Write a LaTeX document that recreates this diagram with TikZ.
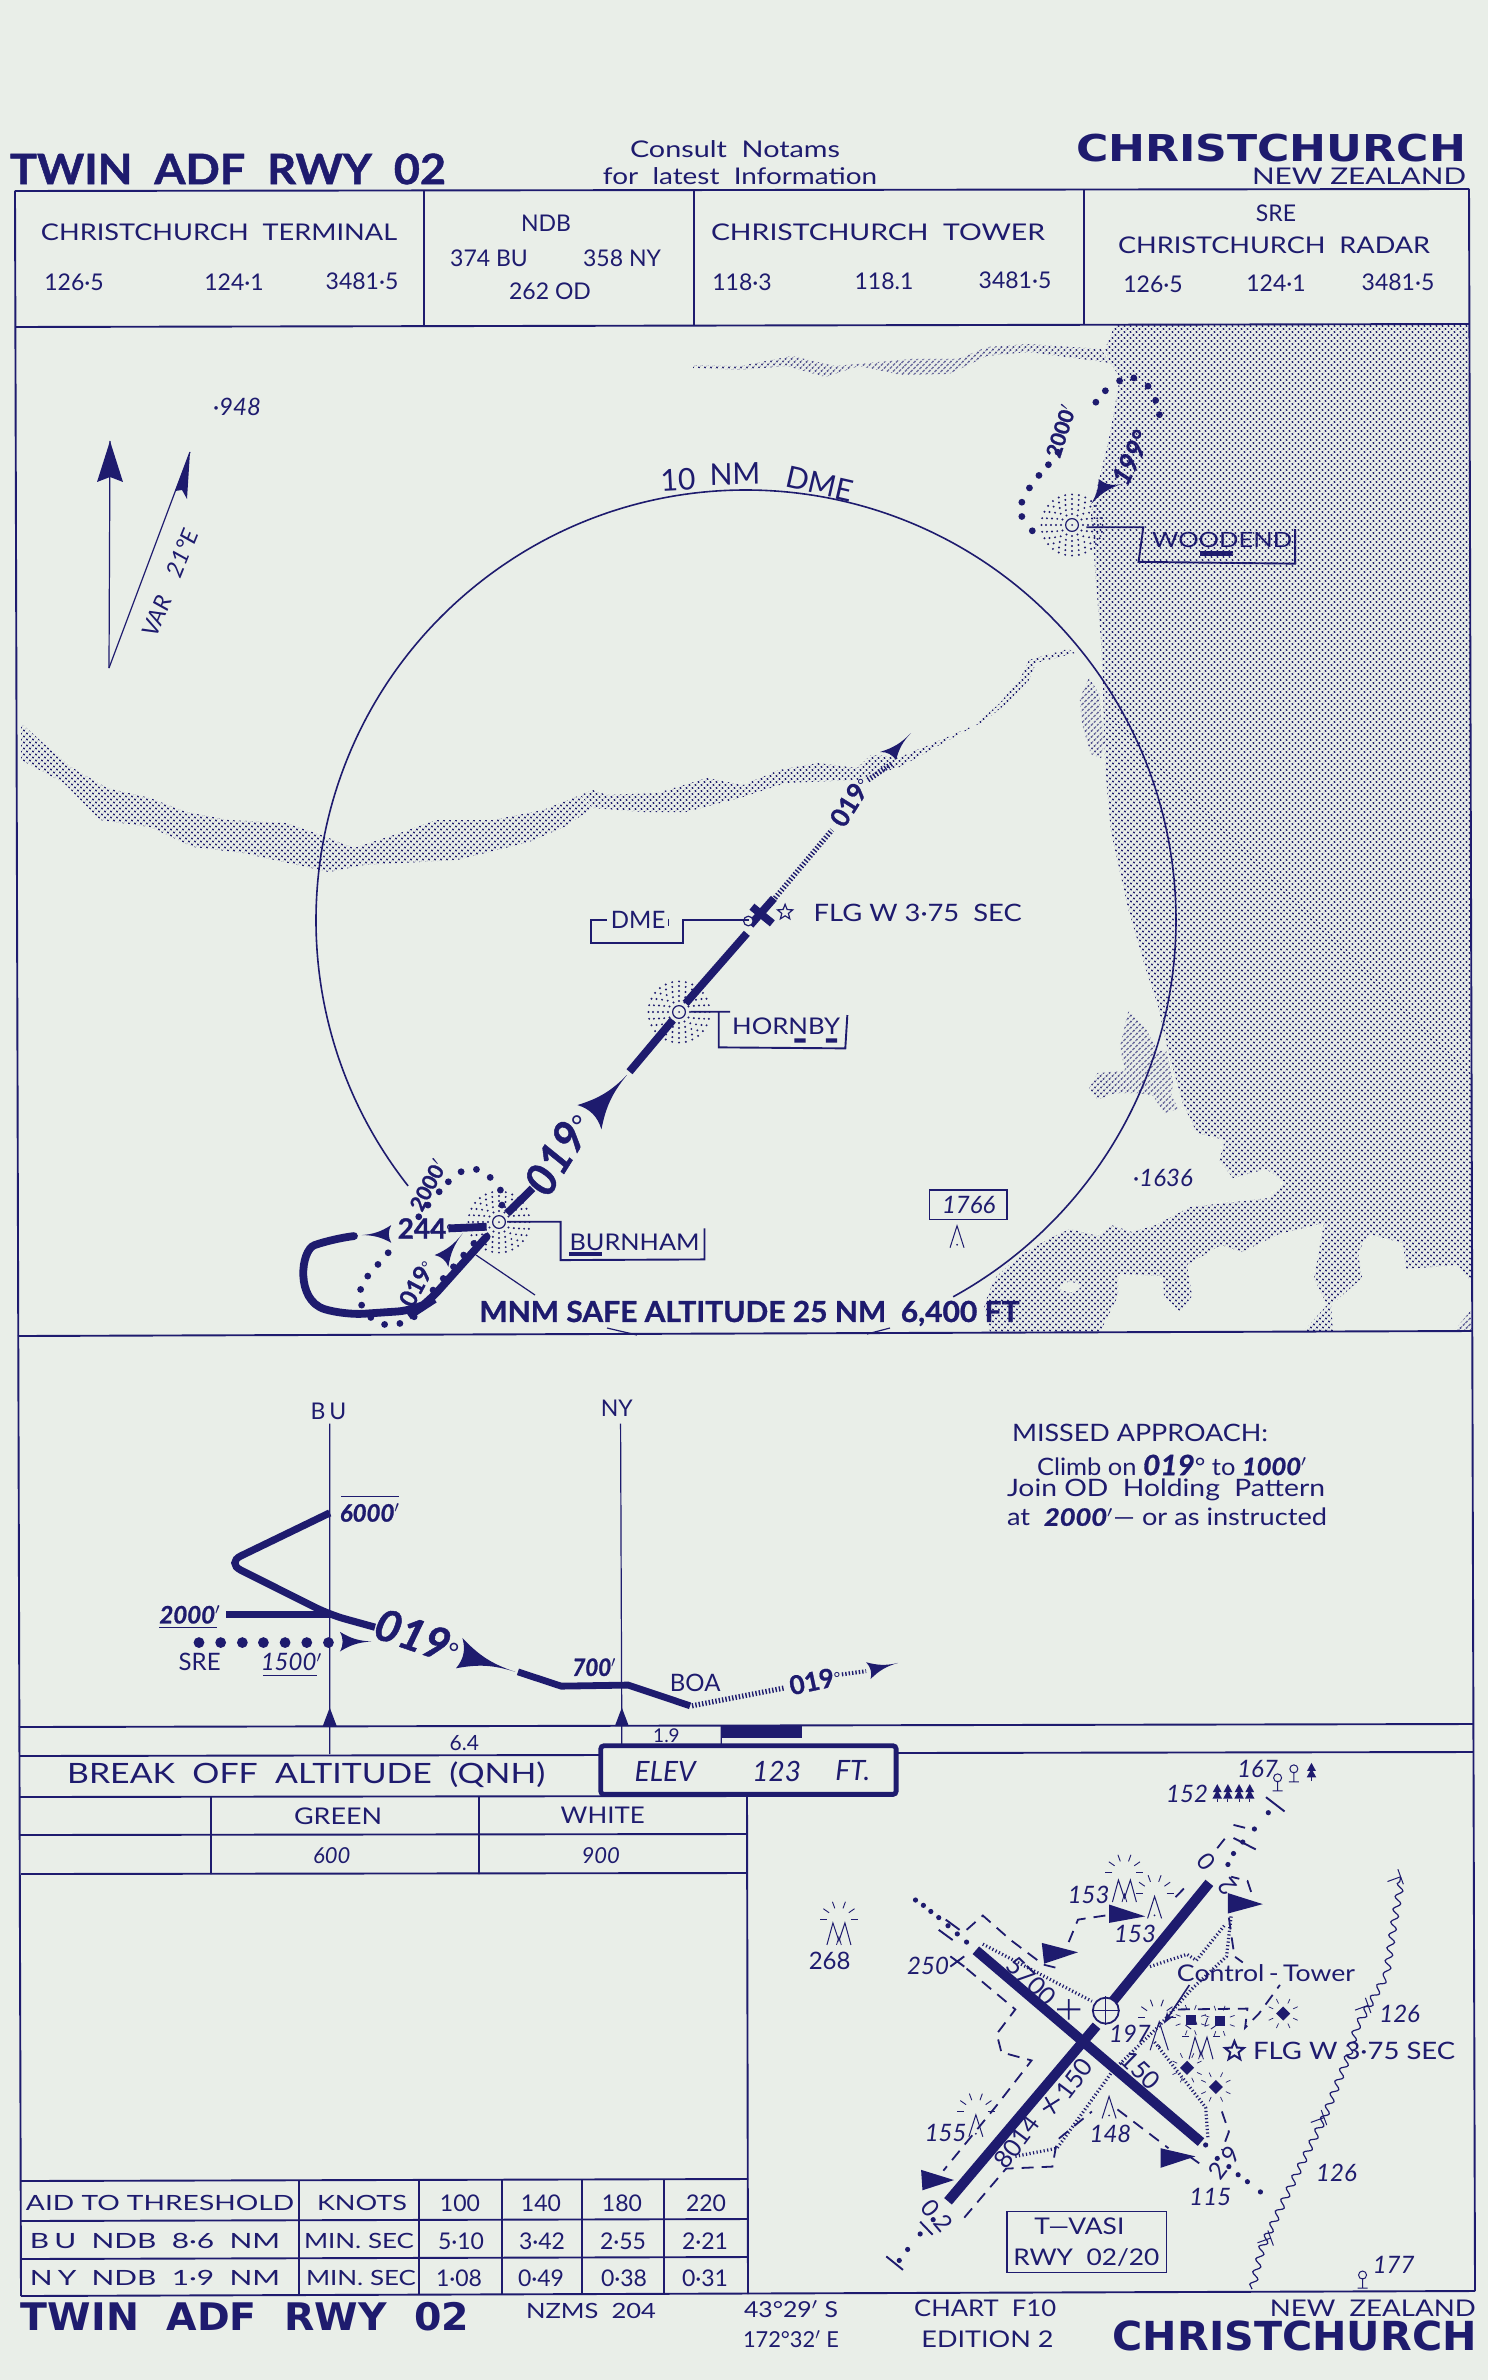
\documentclass[tikz,border=0pt]{standalone}
\usepackage{fontspec}
\usepackage{graphicx}
\setmainfont{Lato}
\newfontfamily\blackfont{DejaVu Sans}
\newfontfamily\fatfont[BoldFeatures={FakeBold=1},BoldItalicFeatures={FakeBold=1}]{Lato}
\usetikzlibrary{patterns.meta,decorations.pathmorphing,arrows.meta,shapes.geometric}
\definecolor{ink}{HTML}{1E1B6E}
\definecolor{paper}{HTML}{E9EEE8}
\newcommand{\fitw}[2]{\resizebox{#1}{\height}{#2}}
\newcommand{\fs}[1]{\fontsize{#1}{#1}\selectfont}
\newcommand{\barb}[3]{\fill[ink] (#1) to[bend left=14] (#2) to[bend left=28] (#3) to[bend left=14] (#1) -- cycle;}
\tikzset{
  viewa/.style={shift={(0,120)},x=.4744pt,y=-.1786pt},
  viewb/.style={shift={(280,860)},x=.2551pt,y=-.1667pt},
  viewc/.style={shift={(0,1320)},x=.3189pt,y=-.1786pt},
  viewd/.style={shift={(760,1740)},x=.2321pt,y=-.2041pt},
  viewf/.style={shift={(950,640)},x=.1716pt,y=-.2232pt},
  lab/.style={inner sep=0pt,text=ink,font=\fs{11.5}},
  labs/.style={lab,font=\fs{10.5}},
  freq/.style={lab,font=\fs{11.5}},
  obst/.style={lab,font=\itshape\fs{12}},
  skew/.style={lab,font=\fatfont\bfseries\itshape\fs{12}},
  fatb/.style={lab,font=\fatfont\bfseries\fs{12}},
  rule/.style={draw=ink,line width=.95pt},
  fine/.style={draw=ink,line width=.6pt},
  track/.style={draw=ink,line width=3.9pt},
  runway/.style={draw=ink,line width=5pt},
  hatchline/.style={draw=ink,line width=2.6pt,dash pattern=on .7pt off 1pt},
  taxi/.style={draw=ink,line width=.9pt,dash pattern=on 6pt off 4pt},
  stip/.style={draw=ink,line width=1.6pt,dash pattern=on .6pt off 1.2pt},
  screen/.style={pattern={Dots[distance=2.1213pt,radius=.58pt,angle=45]},pattern color=ink},
  flgmark/.style={star,star points=5,star point ratio=2.3,draw=ink,inner sep=0pt},
  ndbdisc/.pic={
    \foreach \r/\n in {5.5/12,8/16,10.5/20,13/24,15.3/28}
      \foreach \i in {1,...,\n}
        \fill[ink] ({\i*360/\n}:\r pt) circle (.55pt);
    \filldraw[fill=paper,draw=ink,line width=.6pt] (0,0) circle (3.2pt);
    \fill[ink] (0,0) circle (.5pt);
  },
  peakmark/.pic={
    \draw[ink,line width=.5pt] (-3.5pt,-5.5pt) -- (0,5.5pt) -- (3.5pt,-5.5pt);
    \fill[ink] (0,-4pt) circle (.5pt);
  },
  twinmark/.pic={
    \draw[ink,line width=.5pt] (-6pt,-5.5pt) -- (-3pt,5.5pt) -- (0,-3.5pt) -- (3pt,5.5pt) -- (6pt,-5.5pt);
    \draw[ink,line width=.4pt] (-1.2pt,-5.5pt) -- (0,-1.5pt) -- (1.2pt,-5.5pt);
  },
  raymark/.pic={
    \foreach \a in {0,35,70,110,145,180}
      \draw[ink,line width=.45pt] (\a:6pt) -- (\a:9.5pt);
  },
  lampmark/.pic={
    \fill[ink] (-2.5pt,-2.5pt) rectangle (2.5pt,2.5pt);
    \foreach \a in {20,70,110,160,200,250,290,340}
      \draw[ink,line width=.35pt] (\a:5.5pt) -- (\a:8pt);
  },
  treemark/.pic={
    \draw[ink,line width=.5pt] (0,-5pt) -- (0,0) (-2.5pt,-5pt) -- (2.5pt,-5pt) (0,1.5pt) circle (2pt);
  },
  pinemark/.pic={
    \fill[ink] (0,4.5pt) -- (-2.2pt,.5pt) -- (-.6pt,.5pt) -- (-2.4pt,-2.8pt) -- (2.4pt,-2.8pt) -- (.6pt,.5pt) -- (2.2pt,.5pt) -- cycle;
    \draw[ink,line width=.5pt] (0,-2.8pt) -- (0,-4.5pt);
  },
  pylon/.pic={
    \draw[ink,line width=.5pt] (-4pt,0) -- (4pt,0) (0,0) -- (0,-7pt);
  },
}
\begin{document}
\begin{tikzpicture}[x=.5pt,y=-.5pt]
  \fill[paper] (0,0) rectangle (1488,2380);
  \useasboundingbox (0,0) rectangle (1488,2380);

  \fill[screen] (1115,325) -- (1105,349) -- (1110,363) -- (1120,377) -- (1110,434) -- (1091,513) -- (1096,584)
    -- (1101,640) -- (1103,685) -- (1104,738) -- (1106,778) -- (1111,832) -- (1128,908) -- (1146,970) -- (1158,1006)
    -- (1168,1051) -- (1183,1104) -- (1197,1133) -- (1225,1140) -- (1219,1160) -- (1233,1178) -- (1266,1169)
    -- (1285,1182) -- (1269,1198) -- (1190,1207) -- (1156,1225) -- (1132,1232) -- (1111,1225) -- (1098,1236)
    -- (1070,1229) -- (1050,1238) -- (1019,1256) -- (995,1278) -- (984,1305) -- (990,1332) -- (1100,1332)
    -- (1118,1296) -- (1118,1274) -- (1163,1276) -- (1164,1296) -- (1180,1312) -- (1192,1296) -- (1187,1265)
    -- (1221,1245) -- (1242,1252) -- (1279,1234) -- (1324,1223) -- (1314,1278) -- (1327,1305) -- (1303,1332)
    -- (1333,1332) -- (1331,1305) -- (1362,1278) -- (1358,1252) -- (1369,1234) -- (1403,1243) -- (1406,1269)
    -- (1458,1265) -- (1472,1283) -- (1469,325) -- cycle;
  \fill[screen] (1454,1331) -- (1471,1310) -- (1472,1331) -- cycle;
  \fill[paper] (1070,1287) ellipse (10 and 5);
  \begin{scope}[viewf]
    \fill[screen] (405,85) -- (435,120) -- (440,170) -- (450,230) -- (440,265) -- (410,255) -- (385,190) -- (378,130) -- cycle;
    \fill[screen] (520,830) -- (570,870) -- (605,920) -- (630,920) -- (650,990) -- (645,1020) -- (665,1050) -- (625,1060)
      -- (590,1020) -- (550,1015) -- (480,1015) -- (430,1030) -- (405,1005) -- (430,970) -- (510,965) -- (495,910) -- cycle;
  \end{scope}
  \fill[screen] (21,723) -- (43,743) -- (71,767) -- (107,788) -- (150,798) -- (186,812) -- (229,820) -- (286,823) -- (321,835)
    -- (354,848) -- (400,833) -- (436,820) -- (493,820) -- (543,810) -- (593,790) -- (607,795) -- (657,793) -- (707,778)
    -- (743,785) -- (779,770) -- (818,763) -- (857,768) -- (871,755) -- (900,757) -- (936,742) -- (975,725) -- (1000,703)
    -- (1021,677) -- (1029,660) -- (1068,649) -- (1075,653) -- (1036,663) -- (1029,680) -- (1007,703) -- (986,720) -- (943,743)
    -- (900,767) -- (857,780) -- (786,783) -- (743,797) -- (686,812) -- (643,812) -- (593,808) -- (564,827) -- (529,842)
    -- (457,860) -- (364,865) -- (329,872) -- (243,853) -- (193,847) -- (150,827) -- (100,820) -- (64,783) -- (21,760) -- cycle;
  \fill[screen] (693,365) -- (740,366) -- (792,356) -- (835,366) -- (911,359) -- (958,359) -- (987,347) -- (1029,344) -- (1101,349)
    -- (1110,363) -- (1029,352) -- (987,356) -- (949,374) -- (901,375) -- (859,366) -- (825,377) -- (787,366) -- (740,370) -- (693,368) -- cycle;

  % frame and tables
  \draw[rule] (15,191) -- (1469,189) (15,327) -- (1469,324) (15,191) -- (21,2296) (1469,189) -- (1475,2291);
  \draw[rule] (424,190) -- (424,326) (694,190) -- (694,325) (1084,190) -- (1084,325);
  \draw[rule] (18,1336) -- (1472,1331) (19,1727) -- (1473,1724);
  \draw[rule] (20,1756) -- (601,1755) (896,1753) -- (1473,1752);
  \draw[rule] (20,1797) -- (747,1796) (20,1835) -- (747,1834) (21,1874) -- (747,1873);
  \draw[rule] (211,1796) -- (211,1874) (479,1796) -- (479,1874) (747,1796) -- (748,2294);
  \draw[rule] (21,2181) -- (748,2179) (21,2221) -- (748,2219) (21,2259) -- (748,2257) (21,2296) -- (1475,2291);
  \foreach \x in {299,419,502,582,664}
    \draw[rule] (\x,2180) -- (\x,2295);

  \node[lab,font=\fatfont\bfseries\fs{21}] (hdtwin) at (228,169) {\fitw{218pt}{TWIN\ \ ADF\ \ RWY\ \ 02}};
  \node[lab] (hdconsult) at (735,149) {\fitw{105pt}{Consult\ \ Notams}};
  \node[lab] (hdlatest) at (740,176) {\fitw{137pt}{for\ \ latest\ \ Information}};
  \node[lab,font=\blackfont\bfseries\fs{18.5}] (hdcity) at (1271,148) {\fitw{195pt}{CHRISTCHURCH}};
  \node[lab] (hdnz) at (1359,176) {\fitw{107pt}{NEW ZEALAND}};

  \node[lab] (termname) at (219,232) {\fitw{178pt}{CHRISTCHURCH\ \ TERMINAL}};
  \node[freq] (terma) at (74,282) {126·5};
  \node[freq] (termb) at (234,282) {124·1};
  \node[freq] (termc) at (362,281) {3481·5};
  \node[lab] (ndbname) at (546,223) {NDB};
  \node[lab] (ndba) at (489,258) {374 BU};
  \node[lab] (ndbb) at (622,258) {358 NY};
  \node[lab] (ndbc) at (550,291) {262 OD};
  \node[lab] (towername) at (878,232) {\fitw{167pt}{CHRISTCHURCH\ \ TOWER}};
  \node[freq] (towera) at (742,282) {118·3};
  \node[freq] (towerb) at (884,281) {118.1};
  \node[freq] (towerc) at (1015,280) {3481·5};
  \node[lab] (srename) at (1276,213) {SRE};
  \node[lab] (radarname) at (1274,245) {\fitw{156pt}{CHRISTCHURCH\ \ RADAR}};
  \node[freq] (radara) at (1153,284) {126·5};
  \node[freq] (radarb) at (1276,283) {124·1};
  \node[freq] (radarc) at (1398,282) {3481·5};

  % plan view
  \draw[ink,line width=.8pt] (746,920) ++(141.8:430) arc[start angle=141.8,end angle=421.2,radius=430];
  \draw[fine] (476,1255) -- (535,1295) (607,1328) -- (637,1335) (867,1334) -- (890,1328);
  \node[lab,rotate=3,font=\fs{15}] (dmearc) at (678,480) {10};
  \node[lab,rotate=1,font=\fs{15}] (dmearcb) at (735,474) {NM};
  \node[lab,rotate=-13,font=\fs{15}] (dmearcc) at (820,484) {DME};

  \node[obst] (spota) at (237,407) {·948};
  \draw[fine] (109,668) -- (110,441);
  \draw[fine] (109,668) -- (190,452);
  \fill[ink] (110,441) -- (123,482) -- (110,477) -- (97,482) -- cycle;
  \fill[ink] (190,452) -- (187,499) -- (182,490) -- (175,491) -- cycle;
  \node[lab,rotate=68,font=\itshape\fs{11.5}] (varname) at (170,583) {\fitw{57pt}{VAR\ \ \ \ 21°E}};

  % woodend
  \pic at (1072,525) {ndbdisc};
  \begin{scope}[viewa]
    \foreach \x/\y in {1088/1150,1077/1110,1077/1070,1085/1030,1095/995,1105/965,1115/930,1155/790,1165/758,1180/730,1195/722,1210/745,1218/785,1222/825}
      \fill[ink] (\x,\y) circle (1.7pt);
    \barb{1150,1075}{1183,1018}{1158,1005}
    \node[lab,rotate=72,font=\fatfont\bfseries\fs{10.5}] (woodalt) at (1118,870) {2000$'$};
    \node[lab,rotate=64,font=\fatfont\bfseries\itshape\fs{13}] (woodhdg) at (1192,945) {199°};
    \draw[rule] (1145,1140) -- (1205,1140) -- (1200,1237) -- (1365,1242) -- (1365,1145);
    \node[labs] (woodname) at (1288,1175) {\fitw{70pt}{WOODEND}};
    \fill[ink] (1265,1207) rectangle (1300,1220);
  \end{scope}

  % main track
  \pic at (499,1222) {ndbdisc};
  \pic at (679,1012) {ndbdisc};
  \begin{scope}[viewb]
    \foreach \x/\y in {355/935,385/928,412/952,432/990,435/1035,330/965,312/995,290/1035,272/1070,212/1178,192/1213,172/1248,158/1288,160/1335,178/1372,205/1393,235/1390,263/1370,300/1290,320/1255,340/1220,360/1185,380/1150}
      \fill[ink] (\x,\y) circle (1.7pt);
    \draw[track,line cap=round,rounded corners=10pt] (145,1128) -- (105,1135) .. controls (40,1170) and (30,1320) .. (125,1365) -- (270,1350) -- (285,1335) -- (405,1130);
    \draw[track] (330,1105) -- (405,1100);
    \draw[track] (445,1060) -- (495,985);
    \draw[track] (685,635) -- (770,480);
    \draw[track] (795,430) -- (915,220);
    \draw[track] (922,195) -- (968,115) (925,140) -- (965,190);
    \filldraw[fill=paper,draw=ink,line width=.6pt] (918,183) circle (2.4pt);
    \barb{680,645}{583,735}{630,808}
    \barb{160,1125}{218,1148}{218,1095}
    \barb{358,1120}{303,1185}{330,1220}
    \node[lab,rotate=58,font=\fatfont\bfseries\itshape\fs{22}] (appr) at (545,880) {019\raisebox{1pt}{\normalfont\fs{14}°}};
    \node[lab,font=\fatfont\bfseries\fs{14}] (hold) at (285,1105) {244\raisebox{1pt}{\normalfont\fs{8}°}};
    \node[lab,rotate=62,font=\fatfont\bfseries\fs{10.5}] (burnalt) at (290,975) {2000$'$};
    \node[lab,rotate=62,font=\fatfont\bfseries\fs{12}] (burnhdg) at (268,1270) {019\raisebox{1pt}{\normalfont\fs{8}°}};
    \draw[rule] (445,1085) -- (550,1085) -- (550,1200) -- (832,1198) -- (832,1105);
    \node[lab] (burnname) at (695,1148) {\fitw{65pt}{BURNHAM}};
    \fill[ink] (567,1176) rectangle (632,1188);
    \draw[rule] (805,455) -- (882,455) (860,455) -- (860,562) -- (1108,565) -- (1112,465);
    \node[lab] (hornname) at (992,500) {\fitw{54pt}{HORNBY}};
    \fill[ink] (1008,535) rectangle (1030,548) (1070,535) rectangle (1092,548);
    \draw[rule] (920,180) -- (790,180) -- (790,248) -- (610,248) -- (610,180) -- (640,180);
    \node[lab,font=\fs{12}] (dmename) at (702,180) {DME};
    \draw[fine] (762,178) -- (762,198);
    \node[flgmark,line width=.6pt,minimum size=8pt] (flgstar) at (990,157) {};
    \node[lab,font=\fs{12}] (flgname) at (1250,158) {\fitw{104pt}{FLG W 3·75\ \ SEC}};
    \draw[fine] (1273,990) rectangle (1425,1078);
    \node[obst] (spotb) at (1350,1035) {1766};
    \pic at (1327,1130) {peakmark};
    \node[lab,font=\fatfont\bfseries\fs{14.5}] (mnmsafe) at (920,1360) {\fitw{270pt}{MNM SAFE ALTITUDE 25 NM\ \ 6,400 FT}};
  \end{scope}
  \draw[hatchline] (775,898) -- (832,830);
  \node[lab,rotate=58,font=\fatfont\bfseries\fs{13}] (outhdg) at (850,802) {019\raisebox{1pt}{\normalfont\fs{8}°}};
  \draw[hatchline] (868,780) -- (893,763);
  \barb{911,733}{880,752}{896,760}
  \node[obst] (spotc) at (1163,1178) {·1636};

  % profile
  \begin{scope}[viewc]
    \draw[fine] (517,290) -- (517,1215) (973,290) -- (975,1192) (1131,1137) -- (1131,1192);
    \fill[ink] (517,1085) -- (506,1137) -- (528,1137) -- cycle (975,1085) -- (964,1137) -- (986,1137) -- cycle;
    \fill[ink] (1131,1137) rectangle (1258,1170);
    \node[lab] (bumark) at (515,257) {B\,U};
    \node[lab] (nymark) at (967,247) {NY};
    \draw[track,rounded corners=8pt,line width=3.6pt] (517,540) -- (355,680) -- (517,825) -- (588,860);
    \draw[track,line width=3.6pt] (355,824) -- (517,824);
    \foreach \x in {312,346,380,413,447,481,515}
      \fill[ink] (\x,903) circle (2.7pt);
    \node[skew] (alta) at (580,540) {6000$'$};
    \draw[fine] (535,494) -- (625,494);
    \node[skew] (altb) at (298,825) {2000$'$};
    \draw[fine] (250,860) -- (340,860);
    \node[lab,font=\fs{12}] (srelab) at (313,958) {SRE};
    \node[obst] (altc) at (457,958) {1500$'$};
    \draw[fine] (412,995) -- (497,995);
    \barb{582,900}{533,873}{533,928}
    \node[lab,rotate=-19,font=\fatfont\bfseries\itshape\fs{22}] (proflab) at (655,885) {019\raisebox{1pt}{\normalfont\fs{13}°}};
    \barb{808,985}{725,890}{715,975}
    \draw[track,line width=3.4pt] (812,985) -- (880,1025) -- (985,1022) -- (1082,1080);
    \node[skew] (altd) at (932,972) {\fitw{22pt}{700$'$}};
    \node[lab,font=\fs{12}] (boa) at (1090,1015) {BOA};
    \draw[hatchline] (1085,1080) -- (1230,1030);
    \node[lab,rotate=12,font=\fatfont\bfseries\fs{13}] (outlab) at (1278,1010) {019\raisebox{1pt}{\normalfont\fs{8}°}};
    \draw[hatchline,line width=2pt] (1320,992) -- (1358,983);
    \barb{1408,960}{1358,958}{1365,1005}
    \node[labs] (dista) at (728,1183) {6.4};
    \node[labs,font=\fs{9.5}] (distb) at (1045,1163) {1.9};
    \node[lab,font=\fs{14}] (breakoff) at (480,1272) {\fitw{239pt}{BREAK\ \ OFF\ \ ALTITUDE\ \ (QNH)}};
    \draw[ink,line width=2.4pt,rounded corners=1.5pt] (942,1192) rectangle (1405,1328);
    \node[lab,font=\itshape\fs{14}] (elevname) at (1043,1265) {ELEV};
    \node[lab,font=\itshape\fs{14}] (elevnum) at (1218,1265) {123};
    \node[lab,font=\itshape\fs{14}] (elevunit) at (1337,1262) {FT.};
    \node[lab] (green) at (530,1388) {\fitw{44pt}{GREEN}};
    \node[lab] (white) at (945,1386) {\fitw{42pt}{WHITE}};
    \node[obst,font=\itshape\fs{11}] (greenval) at (520,1500) {600};
    \node[obst,font=\itshape\fs{11}] (whiteval) at (942,1498) {900};
  \end{scope}

  \node[lab,font=\fs{12}] (missa) at (1140,1433) {\fitw{128pt}{MISSED APPROACH:}};
  \node[lab,font=\fs{12}] (missb) at (1172,1465) {\fitw{135pt}{Climb on {\fatfont\bfseries\itshape\fs{14}019}° to {\fatfont\bfseries\itshape 1000$'$}}};
  \node[lab,font=\fs{12}] (missc) at (1166,1490) {\fitw{159pt}{Join\ OD\ \ Holding\ \ Pattern}};
  \node[lab,font=\fs{12}] (missd) at (1167,1517) {\fitw{160pt}{at\ \ {\fatfont\bfseries\itshape 2000$'$}--- or as instructed}};

  % timing table
  \node[labs] (aidname) at (160,2203) {\fitw{134pt}{AID TO THRESHOLD}};
  \node[labs] (knots) at (362,2203) {\fitw{45pt}{KNOTS}};
  \node[labs] (rowbu) at (155,2241) {\fitw{125pt}{B\,U\ \ NDB\ \ 8·6\ \ NM}};
  \node[labs] (rowny) at (155,2278) {\fitw{125pt}{N\,Y\ \ NDB\ \ 1·9\ \ NM}};
  \node[labs] (minbu) at (359,2241) {\fitw{55pt}{MIN. SEC}};
  \node[labs] (minny) at (361,2278) {\fitw{55pt}{MIN. SEC}};
  \foreach \nm/\x/\t in {a/460/100,b/541/140,c/622/180,d/706/220}
    \node[lab] (knot\nm) at (\x,2203) {\t};
  \foreach \nm/\x/\t in {a/461/5·10,b/542/3·42,c/623/2·55,d/705/2·21}
    \node[lab] (bu\nm) at (\x,2241) {\t};
  \foreach \nm/\x/\t in {a/459/1·08,b/541/0·49,c/624/0·38,d/705/0·31}
    \node[lab] (ny\nm) at (\x,2278) {\t};

  \node[lab,font=\blackfont\bfseries\fs{19}] (fttwin) at (245,2317) {\fitw{224pt}{TWIN\ \ ADF\ \ RWY\ \ 02}};
  \node[labs] (nzms) at (591,2311) {\fitw{65pt}{NZMS\ \ 204}};
  \node[labs,font=\fs{11}] (lata) at (791,2309) {\fitw{47pt}{43°29$'$ S}};
  \node[labs,font=\fs{11}] (latb) at (791,2339) {\fitw{48pt}{172°32$'$ E}};

  % aerodrome
  \begin{scope}[viewd]
    \draw[taxi] (1058,372) -- (1050,345) -- (1015,335);
    \draw[taxi] (1010,435) -- (1022,530) -- (1040,545);
    \draw[taxi] (895,385) -- (925,350);
    \draw[taxi] (985,265) -- (1008,232) (1020,208) -- (1045,215);
    \draw[taxi] (665,495) -- (685,440) -- (755,428);
    \draw[taxi] (445,465) -- (480,430) -- (540,490) -- (610,550) -- (645,560);
    \draw[taxi] (445,560) -- (550,660) -- (510,720) -- (520,765) -- (585,785) -- (510,895) -- (395,1055);
    \draw[taxi] (440,1170) -- (530,1050) -- (630,1045) -- (640,980) -- (715,910);
    \draw[taxi] (770,905) -- (880,1000);
    \draw[taxi] (925,1020) -- (950,1040);
    \draw[taxi] (995,910) -- (1010,960) -- (995,1005);
    \draw[taxi] (900,660) -- (1050,658) -- (1045,705) -- (1075,670) -- (1120,600);
    \draw[stip] (480,500) -- (715,640);
    \draw[stip] (550,1020) -- (640,1000) -- (760,810) -- (860,700) -- (930,610) -- (1005,530) -- (1015,430);
    \draw[stip] (840,555) -- (920,525) -- (940,540) -- (1000,455);
    \draw[stip] (850,740) -- (960,900) -- (965,975);
    \draw[runway] (405,1130) -- (725,700) (760,640) -- (968,350);
    \draw[runway] (465,515) -- (950,985);
    \filldraw[fill=paper,draw=ink,line width=.9pt] (745,663) circle (6.5pt);
    \draw[fine] (715,663) -- (775,663) (745,628) -- (745,698);
    \foreach \x/\y in {1095/178,1065/218,1040/250,1020/278,1008/305,318/1248,345/1210,373/1175,960/992,985/1025,1010/1045,1030/1065,1050/1082,1078/1107,335/392,352/405,368/420,385/435,405/455,425/475,445/495,300/1275}
      \fill[ink] (\x,\y) circle (1.3pt);
    \draw[rule] (1090,140) -- (1130,175) (1020,240) -- (1068,268) (272,1265) -- (308,1298) (345,1180) -- (372,1212) (385,465) -- (415,490) (400,440) -- (430,465);
    \draw[rule] (410,530) -- (440,555) (440,530) -- (410,555);
    \draw[rule] (640,660) -- (690,660) (665,635) -- (665,685) (610,905) -- (645,880) (615,875) -- (635,915);
    \fill[ink] (1083,402) -- (1008,375) -- (1008,425) -- cycle;
    \fill[ink] (830,432) -- (752,403) -- (752,448) -- cycle;
    \fill[ink] (685,520) -- (607,497) -- (612,548) -- cycle;
    \fill[ink] (418,1078) -- (347,1053) -- (350,1103) -- cycle;
    \fill[ink] (938,1020) -- (863,1000) -- (863,1048) -- cycle;
    \pic at (170,475) {twinmark};
    \pic at (170,440) {raymark};
    \pic at (785,370) {twinmark};
    \pic at (785,325) {raymark};
    \pic at (850,410) {peakmark};
    \pic at (850,375) {raymark};
    \pic at (465,945) {peakmark};
    \pic at (465,910) {raymark};
    \pic at (752,900) {peakmark};
    \pic[scale=1.3] at (860,725) {peakmark};
    \pic at (855,680) {raymark};
    \pic at (950,755) {twinmark};
    \pic at (950,725) {raymark};
    \foreach \x/\y in {928/686,990/688}
      \pic at (\x,\y) {lampmark};
    \foreach \x/\y in {1127/670,920/803,982/850}
      \pic[rotate=45] at (\x,\y) {lampmark};
    \foreach \x in {985,1008,1032,1055}
      \pic at (\x,130) {pinemark};
    \pic at (1115,100) {treemark};
    \pic at (1150,78) {treemark};
    \pic at (1188,78) {pinemark};
    \pic at (1298,1318) {treemark};
    \draw[ink,line width=.6pt,decorate,decoration={snake,amplitude=1.7pt,segment length=6.5pt}]
      (1060,1345) -- (1080,1250) -- (1150,1080) -- (1215,930) -- (1265,785) -- (1285,710) -- (1345,590) -- (1360,470) -- (1380,335);
    \pic[rotate=-70] at (1100,1220) {pylon};
    \pic[rotate=-70] at (1215,925) {pylon};
    \pic[rotate=-70] at (1310,650) {pylon};
    \pic[rotate=-70] at (1380,335) {pylon};
    \draw[ink,line width=.8pt,-{Stealth[length=6pt,width=4pt]}] (925,600) -- (870,695);
    \node[lab,font=\fs{12}] (spoti) at (150,542) {268};
    \node[obst] (spotj) at (362,553) {250};
    \node[obst] (spotk) at (708,380) {153};
    \node[obst] (spotl) at (808,475) {153};
    \node[obst] (spotm) at (797,720) {197};
    \node[obst] (spotn) at (755,965) {148};
    \node[obst] (spoto) at (400,962) {155};
    \node[obst] (spotp) at (970,1120) {115};
    \node[obst] (spotq) at (1072,72) {167};
    \node[obst] (spotr) at (920,132) {152};
    \node[obst] (spots) at (1365,1285) {177};
    \node[obst] (spott) at (1378,672) {126};
    \node[obst] (spotu) at (1242,1060) {126};
    \node[lab,rotate=-44,font=\fs{12.5}] (rwya) at (585,590) {5700};
    \node[lab,rotate=-44,font=\fs{12.5}] (rwyb) at (820,808) {150};
    \node[lab,rotate=53,font=\fs{12.5}] (rwyc) at (553,985) {8014};
    \node[lab,rotate=53,font=\fs{12.5}] (rwyd) at (677,830) {150};
    \node[lab,rotate=130,font=\fs{12}] (rwye) at (985,328) {2\ \ \ 0};
    \node[lab,rotate=-50,font=\fs{12}] (rwyf) at (382,1165) {0\ 2};
    \node[lab,rotate=53,font=\fs{12}] (rwyg) at (1000,1035) {2\ 9};
    \node[lab] (ctwr) at (1090,570) {\fitw{89pt}{Control\,-\,Tower}};
    \node[flgmark,line width=1pt,minimum size=10pt] (flgb) at (1022,762) {};
    \node[lab,font=\fs{12}] (flgc) at (1280,762) {\fitw{101pt}{FLG W 3·75 SEC}};
    \draw[fine] (532,1155) rectangle (876,1305);
    \node[lab] (vasia) at (688,1192) {\fitw{45pt}{T---VASI}};
    \node[lab] (vasib) at (703,1268) {\fitw{73pt}{RWY\ \ 02/20}};
    \node[lab] (chart) at (485,1392) {\fitw{71pt}{CHART\ \ F10}};
    \node[lab] (edit) at (490,1467) {\fitw{66pt}{EDITION 2}};
    \node[lab] (ftnz) at (1320,1392) {\fitw{103pt}{NEW\ \ ZEALAND}};
    \node[lab,font=\blackfont\bfseries\fs{20}] (ftcity) at (1152,1460) {\fitw{182pt}{CHRISTCHURCH}};
  \end{scope}
\end{tikzpicture}
\end{document}
